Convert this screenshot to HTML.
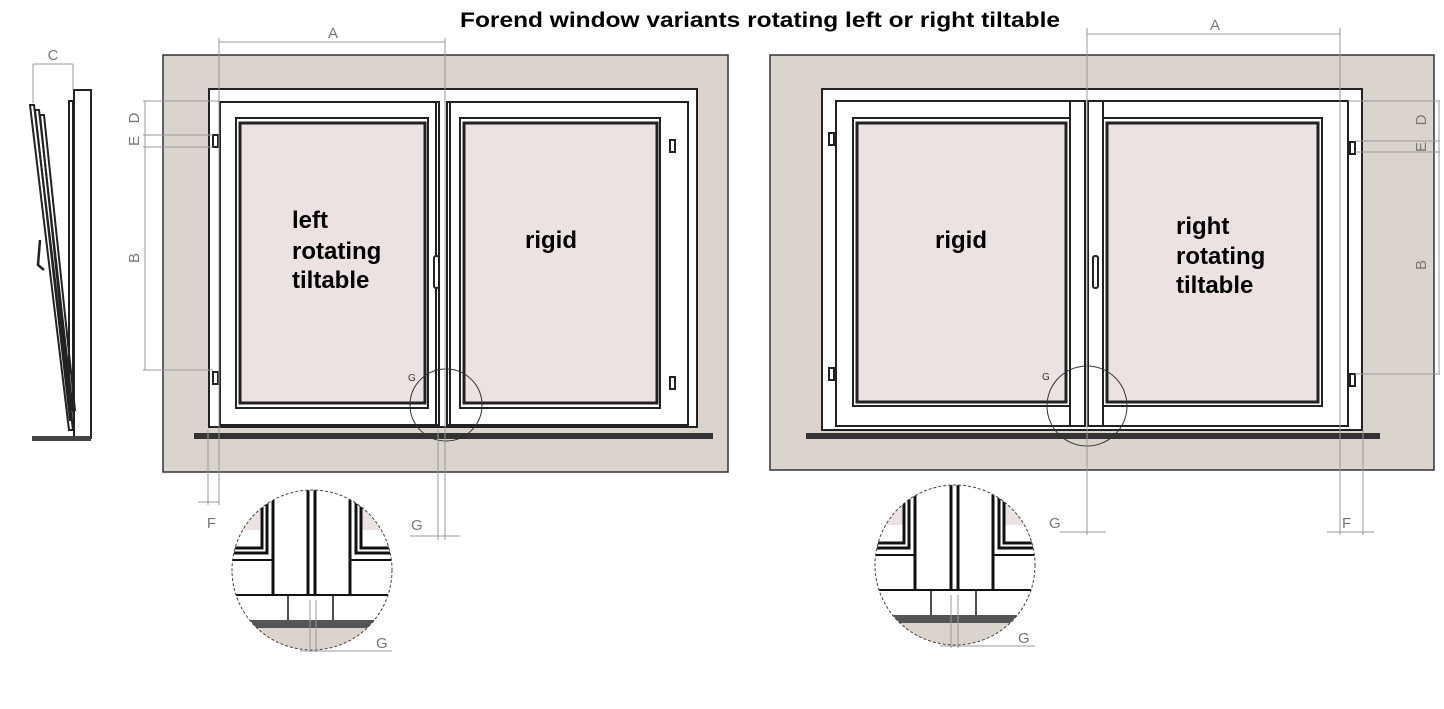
<!DOCTYPE html>
<html><head><meta charset="utf-8"><style>
html,body{margin:0;padding:0;background:#fff;}
svg{display:block;}
text{font-family:"Liberation Sans",sans-serif;}
</style></head><body>
<svg width="1444" height="709" viewBox="0 0 1444 709" xmlns="http://www.w3.org/2000/svg">
<defs>
<clipPath id="c1"><circle cx="312" cy="570" r="80"/></clipPath>
<clipPath id="c2"><circle cx="955" cy="565" r="80"/></clipPath>
</defs>
<text x="460" y="27" font-size="21" font-weight="bold" textLength="600" lengthAdjust="spacingAndGlyphs" fill="#000">Forend window variants rotating left or right tiltable</text>

<!-- side view -->
<g stroke="#222" fill="none">
<rect x="74" y="90" width="17" height="348" fill="#fff" stroke-width="2"/>
<rect x="69" y="101" width="4" height="300" stroke-width="2"/>
<path d="M30 105 L34 105 L73 430 L69 430 Z" stroke-width="2"/>
<path d="M35 110 L39 110 L74 420 L70 420 Z" stroke-width="2"/>
<path d="M40 115 L44 115 L75 410 L71 410 Z" stroke-width="2"/>
<path d="M40 240 L38 265 L44 270" stroke-width="2.5"/>
<rect x="32" y="436" width="59" height="5" fill="#444" stroke="none"/>
</g>
<g stroke="#999" fill="none">
<line x1="33" y1="64" x2="33" y2="103"/><line x1="73" y1="64" x2="73" y2="90"/>
<line x1="33" y1="64" x2="73" y2="64"/>
</g>
<text x="53" y="60" font-size="15" fill="#777" text-anchor="middle">C</text>

<!-- LEFT WINDOW -->
<rect x="163" y="55" width="565" height="417" fill="#dbd4cd" stroke="#333" stroke-width="1.5"/>
<g stroke="#222" stroke-width="2">
<rect x="209" y="89" width="488" height="338" fill="#fff"/>
<rect x="220" y="102" width="219" height="323" fill="#fff"/>
<rect x="447" y="102" width="241" height="323" fill="#fff"/>
<rect x="236" y="118" width="192" height="290" fill="#fff"/>
<rect x="240" y="123" width="185" height="280" fill="#ede2e2" stroke-width="3"/>
<rect x="460" y="118" width="200" height="290" fill="#fff"/>
<rect x="464" y="123" width="193" height="280" fill="#ede2e2" stroke-width="3"/>
<line x1="436" y1="102" x2="436" y2="425"/>
<line x1="450" y1="102" x2="450" y2="425"/>
<rect x="434" y="256" width="5" height="32" fill="#fff" rx="2"/>
<rect x="213" y="135" width="5" height="12" fill="#fff"/>
<rect x="213" y="372" width="5" height="12" fill="#fff"/>
<rect x="670" y="140" width="5" height="12" fill="#fff"/>
<rect x="670" y="377" width="5" height="12" fill="#fff"/>
</g>
<rect x="194" y="433" width="519" height="6" fill="#333"/>
<circle cx="446" cy="405" r="36" fill="none" stroke="#333" stroke-width="1"/>
<text x="408" y="381" font-size="10" fill="#333">G</text>
<g font-size="24" font-weight="bold" fill="#000">
<text x="292" y="228">left</text>
<text x="292" y="259">rotating</text>
<text x="292" y="288">tiltable</text>
<text x="525" y="248">rigid</text>
</g>
<g stroke="#999" fill="none" stroke-width="1">
<line x1="219" y1="38" x2="219" y2="505"/><line x1="445" y1="38" x2="445" y2="540"/>
<line x1="219" y1="42" x2="445" y2="42"/>
<line x1="143" y1="101" x2="219" y2="101"/><line x1="143" y1="135" x2="213" y2="135"/>
<line x1="143" y1="147" x2="213" y2="147"/><line x1="143" y1="370" x2="213" y2="370"/>
<line x1="145" y1="101" x2="145" y2="370"/>
<line x1="208" y1="430" x2="208" y2="505"/><line x1="198" y1="502" x2="219" y2="502"/>
<line x1="438" y1="430" x2="438" y2="540"/><line x1="410" y1="536" x2="460" y2="536"/>
</g>
<text x="333" y="38" font-size="15" fill="#777" text-anchor="middle">A</text>
<g font-size="15" fill="#777">
<text transform="translate(139,118) rotate(-90)" text-anchor="middle">D</text>
<text transform="translate(139,141) rotate(-90)" text-anchor="middle">E</text>
<text transform="translate(139,258) rotate(-90)" text-anchor="middle">B</text>
<text x="216" y="528" text-anchor="end">F</text>
<text x="411" y="530">G</text>
</g>
<!-- left detail circle -->
<g clip-path="url(#c1)">
<rect x="230" y="490" width="165" height="165" fill="#fff"/>
<rect x="230" y="490" width="30" height="40" fill="#ede2e2"/>
<rect x="360" y="490" width="35" height="40" fill="#ede2e2"/>
<g stroke="#111" stroke-width="3" fill="none">
<path d="M262 490 V548 H230"/><path d="M267 490 V553 H230"/>
<path d="M273 490 V595"/><path d="M308 490 V595"/><path d="M315 490 V595"/><path d="M350 490 V595"/>
<path d="M361 490 V548 H395"/><path d="M356 490 V553 H395"/>
<path d="M230 560 H273 M350 560 H395" stroke-width="2"/>
<path d="M230 595 H395" stroke-width="2"/>
<path d="M288 595 V620 M333 595 V620" stroke-width="1.5"/>
</g>
<rect x="230" y="620" width="165" height="8" fill="#555"/>
<rect x="230" y="628" width="165" height="25" fill="#dbd4cd"/>
</g>
<circle cx="312" cy="570" r="80" fill="none" stroke="#444" stroke-dasharray="3 2"/>
<g stroke="#999"><line x1="310" y1="600" x2="310" y2="652"/><line x1="316" y1="600" x2="316" y2="652"/><line x1="300" y1="651" x2="392" y2="651"/></g>
<text x="376" y="648" font-size="15" fill="#777">G</text>

<!-- RIGHT WINDOW -->
<rect x="770" y="55" width="664" height="415" fill="#dbd4cd" stroke="#333" stroke-width="1.5"/>
<g stroke="#222" stroke-width="2">
<rect x="822" y="89" width="540" height="341" fill="#fff"/>
<rect x="836" y="101" width="249" height="325" fill="#fff"/>
<rect x="1088" y="101" width="260" height="325" fill="#fff"/>
<rect x="853" y="118" width="217" height="288" fill="#fff"/>
<rect x="857" y="123" width="209" height="279" fill="#ede2e2" stroke-width="3"/>
<rect x="1103" y="118" width="219" height="288" fill="#fff"/>
<rect x="1107" y="123" width="211" height="279" fill="#ede2e2" stroke-width="3"/>
<line x1="1070" y1="101" x2="1070" y2="426"/>
<line x1="1103" y1="101" x2="1103" y2="426"/>
<rect x="1093" y="256" width="5" height="32" fill="#fff" rx="2"/>
<rect x="829" y="133" width="5" height="12" fill="#fff"/>
<rect x="829" y="368" width="5" height="12" fill="#fff"/>
<rect x="1350" y="142" width="5" height="12" fill="#fff"/>
<rect x="1350" y="374" width="5" height="12" fill="#fff"/>
</g>
<rect x="806" y="433" width="574" height="6" fill="#333"/>
<circle cx="1087" cy="406" r="40" fill="none" stroke="#333" stroke-width="1"/>
<text x="1042" y="380" font-size="10" fill="#333">G</text>
<g font-size="24" font-weight="bold" fill="#000">
<text x="935" y="248">rigid</text>
<text x="1176" y="234">right</text>
<text x="1176" y="264">rotating</text>
<text x="1176" y="293">tiltable</text>
</g>
<g stroke="#999" fill="none" stroke-width="1">
<line x1="1087" y1="28" x2="1087" y2="535"/><line x1="1340" y1="28" x2="1340" y2="535"/>
<line x1="1087" y1="34" x2="1340" y2="34"/>
<line x1="1348" y1="101" x2="1440" y2="101"/><line x1="1355" y1="141" x2="1440" y2="141"/>
<line x1="1355" y1="152" x2="1440" y2="152"/><line x1="1355" y1="374" x2="1440" y2="374"/>
<line x1="1439" y1="101" x2="1439" y2="374"/>
<line x1="1363" y1="430" x2="1363" y2="535"/><line x1="1327" y1="532" x2="1374" y2="532"/>
<line x1="1060" y1="532" x2="1106" y2="532"/>
</g>
<text x="1215" y="30" font-size="15" fill="#777" text-anchor="middle">A</text>
<g font-size="15" fill="#777">
<text transform="translate(1426,120) rotate(-90)" text-anchor="middle">D</text>
<text transform="translate(1426,147) rotate(-90)" text-anchor="middle">E</text>
<text transform="translate(1426,265) rotate(-90)" text-anchor="middle">B</text>
<text x="1342" y="528">F</text>
<text x="1049" y="528">G</text>
</g>
<!-- right detail circle -->
<g clip-path="url(#c2)">
<rect x="873" y="485" width="165" height="165" fill="#fff"/>
<rect x="873" y="485" width="30" height="40" fill="#ede2e2"/>
<rect x="1005" y="485" width="35" height="40" fill="#ede2e2"/>
<g stroke="#111" stroke-width="3" fill="none">
<path d="M904 485 V543 H873"/><path d="M909 485 V548 H873"/>
<path d="M915 485 V590"/><path d="M951 485 V590"/><path d="M958 485 V590"/><path d="M993 485 V590"/>
<path d="M1004 485 V543 H1038"/><path d="M999 485 V548 H1038"/>
<path d="M873 555 H915 M993 555 H1038" stroke-width="2"/>
<path d="M873 590 H1038" stroke-width="2"/>
<path d="M931 590 V615 M976 590 V615" stroke-width="1.5"/>
</g>
<rect x="873" y="615" width="165" height="8" fill="#555"/>
<rect x="873" y="623" width="165" height="25" fill="#dbd4cd"/>
</g>
<circle cx="955" cy="565" r="80" fill="none" stroke="#444" stroke-dasharray="3 2"/>
<g stroke="#999"><line x1="951" y1="595" x2="951" y2="648"/><line x1="958" y1="595" x2="958" y2="648"/><line x1="940" y1="646" x2="1035" y2="646"/></g>
<text x="1018" y="643" font-size="15" fill="#777">G</text>
</svg>
</body></html>
